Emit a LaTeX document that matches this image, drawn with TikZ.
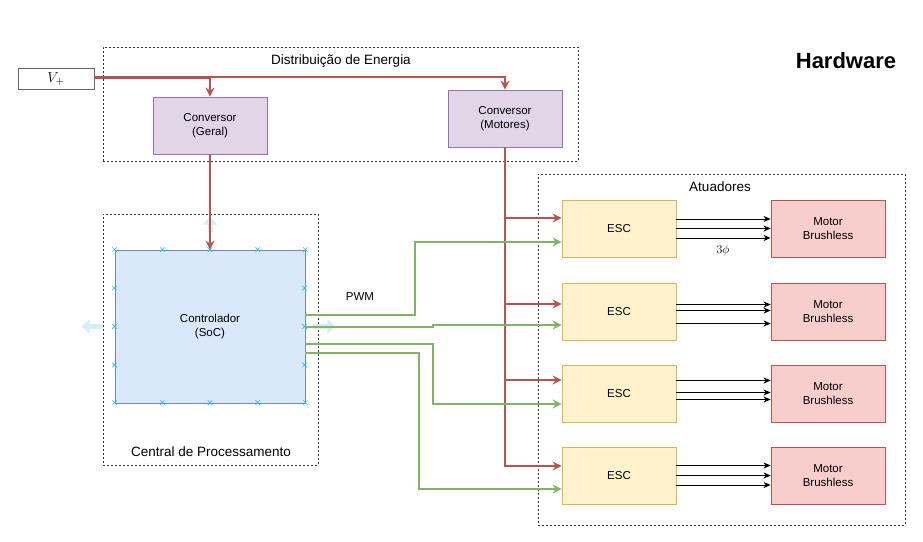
\documentclass[tikz,border=0pt]{standalone}
\usepackage{fontspec}
\setmainfont{Liberation Sans}
\usetikzlibrary{arrows.meta,calc}
\definecolor{purF}{HTML}{E1D5E7}\definecolor{purD}{HTML}{9673A6}
\definecolor{bluF}{HTML}{DAE8FC}\definecolor{bluD}{HTML}{6C8EBF}
\definecolor{yelF}{HTML}{FFF2CC}\definecolor{yelD}{HTML}{D6B656}
\definecolor{redF}{HTML}{F8CECC}\definecolor{redD}{HTML}{B85450}
\definecolor{grnD}{HTML}{82B366}
\definecolor{selC}{HTML}{29B6F2}
\definecolor{hovC}{HTML}{D4EEFA}
\begin{document}
\begin{tikzpicture}[x=1pt,y=-1pt,
  grp/.style={draw=black!80, dash pattern=on 2pt off 2pt, line width=0.7pt, inner sep=0},
  gtitle/.style={font=\fontsize{13.5}{16}\selectfont, inner sep=0},
  blk/.style={draw, line width=0.8pt, minimum width=114pt, minimum height=57pt, inner sep=0, align=center, font=\fontsize{11.5}{13.5}\selectfont},
  conv/.style={blk, fill=purF, draw=purD},
  esc/.style={blk, fill=yelF, draw=yelD},
  mot/.style={blk, fill=redF, draw=redD},
  redw/.style={draw=redD, line width=2pt, -{Stealth[length=9pt,width=9pt,inset=3pt]}},
  grnw/.style={draw=grnD, line width=2pt, -{Stealth[length=9pt,width=9pt,inset=3pt]}},
  phw/.style={draw=black, line width=1pt, -{Stealth[length=7pt,width=6pt,inset=2pt]}},
  sel/.style={draw=selC, line width=0.6pt},
  hov/.style={draw=hovC, line width=5pt, -{Triangle[length=8pt,width=14pt]}},
  lbl/.style={font=\fontsize{11.5}{13.5}\selectfont, inner sep=0}
]
\useasboundingbox (0,0) rectangle (923,541);
\fill[white] (0,0) rectangle (923,541);

% groups
\node[grp, minimum width=475pt, minimum height=114pt] (dist) at (340.5,104) {};
\node[gtitle] (distT) at (341,61) {Distribuição de Energia};
\node[grp, minimum width=215pt, minimum height=251pt] (cpu) at (210.5,339.5) {};
\node[gtitle] (cpuT) at (211,452) {Central de Processamento};
\node[grp, minimum width=367pt, minimum height=351pt] (act) at (721.5,349.5) {};
\node[gtitle] (actT) at (720,187) {Atuadores};
\node[font=\fontsize{22}{25}\selectfont\bfseries, inner sep=0] (hw) at (846,61) {Hardware};

% source and converters
\node[draw=black!60, line width=1pt, fill=white, minimum width=76pt, minimum height=21pt, inner sep=0, font=\fontsize{15}{17}\selectfont] (vp) at (56,79) {$V_+$};
\node[conv] (geral) at (210,125.5) {Conversor\\(Geral)};
\node[conv] (motores) at (505,118.5) {Conversor\\(Motores)};

% controller
\node[blk, fill=bluF, draw=bluD, minimum width=190pt, minimum height=153pt] (ctl) at (210,326.5) {Controlador\\(SoC)};

% hover arrows (behind wires)
\draw[hov] ($(ctl.north)+(0,-18)$) -- ++(0,-15);
\draw[hov] ($(ctl.west)+(-12,0)$) -- ++(-21,0);
\draw[hov] ($(ctl.east)+(8,0)$) -- ++(22,0);

% ESCs and motors
\foreach \i/\y in {1/228.5,2/311.5,3/393.5,4/475.5}{
  \node[esc] (esc\i) at (619,\y) {ESC};
  \node[mot] (mot\i) at (828,\y) {Motor\\Brushless};
}

% power wires
\draw[redw] ($(vp.east)+(0,-0.6)$) -| (geral.north);
\draw[redw] ($(vp.east)+(0,-1.8)$) -| (motores.north);
\draw[redw] (geral.south) -- (ctl.north);
\draw[redw] (motores.south) |- ($(esc1.west)+(0,-10.5)$);
\draw[redw] (motores.south) |- ($(esc2.west)+(0,-7.5)$);
\draw[redw] (motores.south) |- ($(esc3.west)+(0,-13.5)$);
\draw[redw] (motores.south) |- ($(esc4.west)+(0,-9.5)$);

% PWM wires
\draw[grnw] ($(ctl.east)+(0,-11.5)$) -- ++(110,0) |- ($(esc1.west)+(0,13.5)$);
\draw[grnw] (ctl.east) -- ++(128,0) -- ++(0,-1.5) -- ($(esc2.west)+(0,13.5)$);
\draw[grnw] ($(ctl.east)+(0,17.5)$) -- ++(128,0) |- ($(esc3.west)+(0,10.5)$);
\draw[grnw] ($(ctl.east)+(0,26.5)$) -- ++(114,0) |- ($(esc4.west)+(0,13.5)$);
\node[lbl] (pwm) at (360,297) {PWM};

% three-phase
\foreach \i/\a/\b/\c in {1/-9.5/0/9.5, 2/-7/-1/12, 3/-13/-1/6, 4/-10/0/9.5}{
  \draw[phw] ($(esc\i.east)+(0,\a)$) -- ($(mot\i.west)+(0,\a)$);
  \draw[phw] ($(esc\i.east)+(0,\b)$) -- ($(mot\i.west)+(0,\b)$);
  \draw[phw] ($(esc\i.east)+(0,\c)$) -- ($(mot\i.west)+(0,\c)$);
}
\node[inner sep=0, font=\fontsize{13}{15}\selectfont] (ph) at (723,250) {$3\phi$};

% selection handles
\foreach \px in {0,0.25,0.5,0.75,1}{
  \foreach \py in {0,1}{
    \draw[sel] ($(ctl.north west)!\px!(ctl.north east)+(0,153*\py)+(-2.2,-2.2)$) -- ++(4.4,4.4)
               ($(ctl.north west)!\px!(ctl.north east)+(0,153*\py)+(-2.2,2.2)$) -- ++(4.4,-4.4);
  }
}
\foreach \py in {0.25,0.5,0.75}{
  \foreach \px in {0,1}{
    \draw[sel] ($(ctl.north west)!\py!(ctl.south west)+(190*\px,0)+(-2.2,-2.2)$) -- ++(4.4,4.4)
               ($(ctl.north west)!\py!(ctl.south west)+(190*\px,0)+(-2.2,2.2)$) -- ++(4.4,-4.4);
  }
}
\end{tikzpicture}
\end{document}
